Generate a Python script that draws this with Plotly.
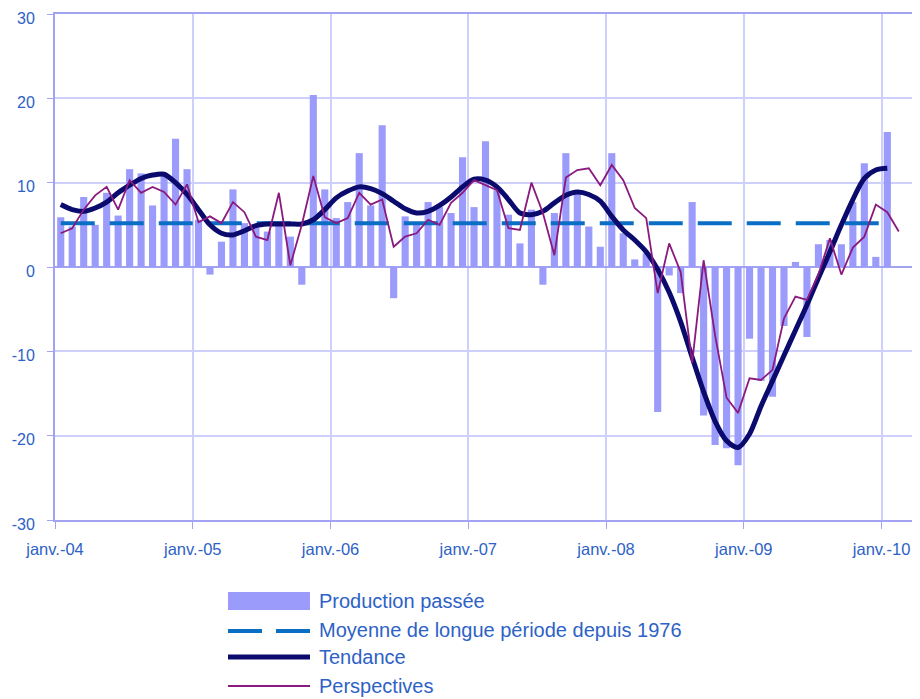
import plotly.graph_objects as go

# ---- data (monthly, janv. 2004 -> fév. 2010) ----
months = [f"{y}-{m:02d}" for y in range(2004, 2011) for m in range(1, 13)][:74]

production = [
    5.9, 4.8, 8.3, 5.0, 8.8, 6.1, 11.6, 11.1, 7.3, 10.8, 15.2, 11.6,
    5.6, -0.9, 3.0, 9.2, 5.2, 4.8, 4.2, 5.2, 3.6, -2.1, 20.4, 9.2,
    5.8, 7.7, 13.5, 7.3, 16.8, -3.7, 6.0, 5.0, 7.7, 7.1, 6.4, 13.0,
    7.1, 14.9, 9.1, 6.2, 2.8, 6.8, -2.1, 6.4, 13.5, 8.8, 4.8, 2.4,
    13.5, 4.0, 0.9, 1.6, -17.2, -1.0, -3.1, 7.7, -17.6, -21.1, -21.5, -23.5,
    -8.5, -13.5, -15.4, -7.0, 0.6, -8.3, 2.7, 3.2, 2.7, 7.7, 12.3, 1.2,
    16.0,
]

tendance = [
    7.4, 6.8, 6.6, 7.0, 7.7, 8.8, 9.7, 10.5, 10.9, 11.0, 10.0, 8.6,
    6.8, 5.0, 4.0, 3.8, 4.3, 4.9, 5.1, 5.1, 5.1, 5.1, 5.6, 6.8,
    8.2, 9.0, 9.5, 9.3, 8.7, 7.8, 6.9, 6.4, 6.6, 7.3, 8.3, 9.5,
    10.4, 10.3, 9.5, 8.0, 6.4, 6.2, 6.6, 7.6, 8.5, 8.9, 8.6, 7.8,
    6.0, 4.4, 3.2, 1.8, -0.3, -3.0, -6.5, -10.7, -14.8, -18.3, -20.6, -21.4,
    -19.8, -16.5, -13.5, -10.5, -7.5, -4.5, -1.3, 1.8, 5.0, 8.0, 10.5, 11.5,
    11.7,
]

perspectives = [
    4.0, 4.6, 6.8, 8.5, 9.5, 6.8, 10.3, 8.8, 9.5, 8.9, 7.4, 9.8,
    5.3, 6.0, 5.2, 7.7, 6.5, 3.6, 3.2, 8.8, 0.2, 5.0, 10.8, 5.9,
    5.2, 5.8, 8.8, 7.4, 8.0, 2.4, 3.6, 4.0, 5.6, 5.0, 7.6, 8.8,
    10.3, 9.7, 9.1, 4.6, 4.4, 10.0, 6.4, 1.4, 10.6, 11.5, 11.7, 9.7,
    12.1, 10.3, 7.0, 5.8, -3.1, 2.8, -0.6, -11.4, 0.8, -8.1, -15.5, -17.3,
    -13.2, -13.4, -12.2, -6.1, -3.5, -3.9, -0.9, 3.4, -0.9, 2.3, 3.6, 7.4,
    6.5, 4.2,
]

moyenne_value = 5.2
moyenne = [moyenne_value] * len(production)

tick_labels = ["janv.-04", "janv.-05", "janv.-06", "janv.-07",
               "janv.-08", "janv.-09", "janv.-10"]
y_ticks = [30, 20, 10, 0, -10, -20, -30]
y_tick_labels = ["30", "20", "10", "0", "-10", "-20", "-30"]

names = ["Production passée", "Moyenne de longue période depuis 1976",
         "Tendance", "Perspectives"]

# ---- styles ----
BAR = "#9B9BFB"
DASH = "#0A6FC4"
TEND = "#0B0B6E"
PERSP = "#8A1A7E"
GRID = "#CFCFFB"
AXIS = "#A3A3F3"
TXT = "#2D62C6"
FONT = "Liberation Sans, Arial, sans-serif"

x_bar = list(range(len(production)))
x_tend = list(range(len(tendance)))
x_persp = list(range(len(perspectives)))

fig = go.Figure()
fig.add_trace(go.Bar(x=x_bar, y=production, name=names[0],
                     marker=dict(color=BAR, line=dict(width=0)),
                     customdata=months[:len(production)], showlegend=False))
fig.add_trace(go.Scatter(x=x_bar, y=moyenne, name=names[1], mode="lines",
                         line=dict(color=DASH, width=4, dash="34px,15px"),
                         showlegend=False))
fig.add_trace(go.Scatter(x=x_tend, y=tendance, name=names[2], mode="lines",
                         line=dict(color=TEND, width=5, shape="spline",
                                   smoothing=0.8),
                         showlegend=False))
fig.add_trace(go.Scatter(x=x_persp, y=perspectives, name=names[3], mode="lines",
                         line=dict(color=PERSP, width=1.8),
                         showlegend=False))

tickvals = [-0.5 + 12 * k for k in range(len(tick_labels))]

# page has an 8px body margin: figure is 912x691, plot area 861x506
fig.update_layout(
    width=912, height=691,
    margin=dict(l=47, r=4, t=6, b=179),
    paper_bgcolor="white", plot_bgcolor="white",
    bargap=0.38,
    font=dict(family=FONT, color=TXT, size=16),
    xaxis=dict(range=[-0.5, 74.5], tickvals=tickvals, ticktext=tick_labels,
               automargin=False,
               showgrid=True, gridcolor=GRID, gridwidth=1.5,
               showline=True, linecolor=AXIS, linewidth=2, mirror=True,
               ticks="outside", ticklen=7, tickcolor=AXIS,
               ticklabelstandoff=6, ticklabeloverflow="allow",
               tickfont=dict(size=16.5, color=TXT), zeroline=False),
    yaxis=dict(range=[-30, 30], tickvals=y_ticks, ticktext=y_tick_labels,
               automargin=False,
               showgrid=True, gridcolor=GRID, gridwidth=1.5,
               showline=True, linecolor=AXIS, linewidth=2, mirror=True,
               ticks="outside", ticklen=6, tickcolor=AXIS,
               ticklabelstandoff=9, ticklabelshift=4,
               ticklabeloverflow="allow",
               zeroline=True, zerolinecolor=AXIS, zerolinewidth=2,
               tickfont=dict(size=16, color=TXT)),
)

# ---- manual legend (paper coordinates; screen pixels of the reference) ----
def px(xp):
    return (xp - 55) / 861.0

def py(yp):
    return (520 - yp) / 506.0

shapes = []
shapes.append(dict(type="rect", xref="paper", yref="paper",
                   x0=px(228), x1=px(310), y0=py(610), y1=py(592),
                   fillcolor=BAR, line=dict(width=0)))
shapes.append(dict(type="line", xref="paper", yref="paper",
                   x0=px(228), x1=px(262), y0=py(631), y1=py(631),
                   line=dict(color=DASH, width=4)))
shapes.append(dict(type="line", xref="paper", yref="paper",
                   x0=px(276), x1=px(310), y0=py(631), y1=py(631),
                   line=dict(color=DASH, width=4)))
shapes.append(dict(type="line", xref="paper", yref="paper",
                   x0=px(228), x1=px(310), y0=py(657), y1=py(657),
                   line=dict(color=TEND, width=5)))
shapes.append(dict(type="line", xref="paper", yref="paper",
                   x0=px(228), x1=px(310), y0=py(686), y1=py(686),
                   line=dict(color=PERSP, width=2)))
fig.update_layout(shapes=shapes)

for name, yp in zip(names, [601, 630, 657, 686]):
    fig.add_annotation(xref="paper", yref="paper", x=px(317), y=py(yp),
                       text=name, showarrow=False, xanchor="left",
                       yanchor="middle",
                       font=dict(family=FONT, size=20, color=TXT))

fig.write_html("out.html")
